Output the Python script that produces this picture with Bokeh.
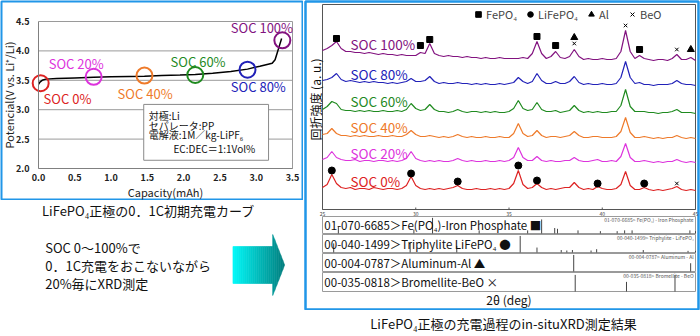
import numpy as np
from bokeh.plotting import figure
from bokeh.models import (Range1d, LinearAxis, FixedTicker, PrintfTickFormatter,
                          Legend, LegendItem)
from bokeh.layouts import row, column
from bokeh.embed import file_html
from bokeh.resources import INLINE
from bokeh.core.properties import value

FONT = "Noto Sans CJK JP"
BLUE = "#2196e8"

# ---------------- charge curve (left) ----------------
capacity = [0.0, 0.02, 0.05, 0.1, 0.25, 0.5, 0.76, 1.0, 1.25, 1.46, 1.7, 1.95,
            2.16, 2.4, 2.65, 2.88, 3.05, 3.15, 3.22, 3.26, 3.29, 3.32, 3.35]
potential = [3.43, 3.47, 3.50, 3.52, 3.53, 3.54, 3.55, 3.56, 3.565, 3.57, 3.58, 3.59,
             3.60, 3.62, 3.65, 3.69, 3.74, 3.77, 3.79, 3.85, 3.97, 4.09, 4.21]
soc_labels = ["SOC 0%", "SOC 20%", "SOC 40%", "SOC 60%", "SOC 80%", "SOC 100%"]
soc_colors = ["#dd2222", "#dd33dd", "#ee7a2a", "#1f8a1f", "#2121b8", "#82127f"]
soc_cap = [0.03, 0.76, 1.46, 2.16, 2.88, 3.36]
soc_v = [3.45, 3.56, 3.58, 3.59, 3.68, 4.18]
soc_label_cap = [0.07, 0.14, 1.09, 1.82, 2.65, 2.65]
soc_label_v = [3.19, 3.79, 3.28, 3.82, 3.40, 4.40]
cap_ticks = [0.0, 0.5, 1.0, 1.5, 2.0, 2.5, 3.0, 3.5]
v_ticks = [2.0, 2.5, 3.0, 3.5, 4.0, 4.5]
cell_notes = ["対極:Li", "セパレータ:PP", "電解液:1M／kg-LiPF₆", "EC:DEC＝1:1Vol%"]
note_cap = [1.52, 1.52, 1.52, 1.86]
note_v = [2.90, 2.73, 2.58, 2.34]
note_box = dict(left=1.45, right=3.17, bottom=2.14, top=3.09)

# ---------------- XRD (right) ----------------
two_theta = np.arange(25.0, 45.001, 0.25)
soc0_r = [3, 6, 16, 7, 3, 2, 3, 1, 2, 2,
          1, 3, 2, 1, 2, 2, 1, 2, 5, 14,
          5, 2, 1, 2, 1, 2, 1, 2, 3, 5,
          2, 1, 1, 2, 1, 1, 2, 1, 2, 1,
          2, 7, 20, 6, 2, 3, 7, 3, 1, 2,
          1, 2, 3, 3, 8, 3, 1, 2, 1, 4,
          2, 1, 1, 2, 6, 19, 5, 1, 1, 3,
          1, 0, 1, 0, 1, 2, 4, 1, 0, 1,
          0]
soc20_r = [3, 5, 11, 5, 3, 2, 2, 3, 1, 2,
           2, 1, 2, 2, 1, 2, 1, 2, 4, 11,
           4, 2, 1, 2, 1, 2, 1, 1, 2, 4,
           2, 1, 2, 1, 1, 2, 1, 1, 2, 1,
           2, 5, 15, 5, 2, 2, 6, 2, 1, 2,
           1, 1, 2, 2, 5, 2, 1, 1, 2, 3,
           1, 1, 2, 1, 6, 19, 5, 1, 1, 2,
           1, 0, 1, 0, 1, 1, 3, 1, 0, 1,
           0]
soc40_r = [4, 5, 10, 5, 3, 3, 2, 3, 2, 3,
           2, 2, 3, 2, 2, 3, 2, 2, 4, 8,
           4, 2, 2, 3, 2, 1, 2, 1, 2, 4,
           2, 1, 2, 1, 1, 2, 1, 1, 2, 1,
           1, 5, 15, 5, 2, 3, 8, 3, 1, 2,
           2, 1, 2, 3, 7, 3, 1, 1, 2, 2,
           1, 1, 1, 2, 7, 21, 6, 1, 1, 2,
           1, 0, 1, 0, 1, 1, 3, 1, 0, 1,
           0]
soc60_r = [4, 7, 12, 10, 4, 3, 3, 2, 3, 2,
           3, 2, 2, 3, 2, 2, 3, 2, 4, 10,
           5, 3, 4, 9, 4, 2, 2, 1, 2, 4,
           2, 1, 2, 2, 1, 2, 1, 2, 1, 1,
           2, 5, 13, 5, 3, 4, 11, 4, 2, 2,
           3, 1, 2, 3, 8, 3, 1, 2, 1, 2,
           1, 1, 2, 2, 8, 24, 7, 2, 2, 2,
           1, 1, 0, 1, 1, 2, 4, 1, 1, 1,
           0]
soc80_r = [5, 6, 8, 12, 6, 4, 5, 4, 3, 4,
           3, 4, 3, 3, 2, 3, 2, 3, 4, 7,
           4, 4, 5, 9, 4, 2, 3, 2, 2, 3,
           2, 2, 1, 2, 1, 2, 1, 1, 2, 1,
           2, 3, 8, 4, 2, 4, 12, 5, 2, 2,
           4, 2, 2, 4, 9, 3, 1, 2, 1, 1,
           2, 1, 1, 2, 8, 24, 8, 2, 3, 1,
           1, 0, 1, 1, 1, 2, 5, 2, 1, 1,
           0]
soc100_r = [10, 12, 15, 19, 12, 9, 9, 8, 8, 7,
            8, 7, 6, 7, 6, 6, 5, 6, 5, 5,
            5, 8, 7, 17, 7, 5, 4, 5, 4, 4,
            3, 4, 3, 3, 2, 3, 2, 2, 3, 2,
            2, 2, 2, 3, 2, 7, 19, 7, 2, 4,
            9, 3, 2, 4, 11, 4, 1, 2, 1, 1,
            2, 1, 1, 2, 9, 30, 9, 2, 5, 2,
            1, 0, 1, 1, 0, 2, 6, 1, 1, 3,
            0]
spectra = [soc0_r, soc20_r, soc40_r, soc60_r, soc80_r, soc100_r]
spectrum_offsets = [19, 47, 71, 96, 124, 149]
xrd_label_x = 26.5
xrd_label_y = [29, 57, 83, 109, 136, 166]

fepo4_mark_x = [25.75, 30.25, 30.75, 36.5, 37.5, 42.0]
fepo4_mark_y = [171, 164, 170, 173, 164, 160]
lfp_mark_x = [25.5, 29.75, 32.25, 35.5, 36.5, 39.75, 42.25]
lfp_mark_y = [39, 36, 28, 44, 29, 26, 26]
al_mark_x = [38.5, 44.75]
al_mark_y = [172, 160]
beo_mark_x = [38.5, 41.25, 44.0, 44.0]
beo_mark_y = [166, 184, 160, 26]

xrd_ticks = [25, 30, 35, 40, 45]
ref_names = ["01-070-6685＞Fe(PO₄)-Iron Phosphate ■",
             "00-040-1499＞Triphylite LiFePO₄ ●",
             "00-004-0787＞Aluminum-Al ▲",
             "00-035-0818＞Bromellite-BeO ×"]
ref_small = ["01-070-6685> Fe(PO₄) - Iron Phosphate",
             "00-040-1499> Triphylite - LiFePO₄",
             "00-004-0787> Aluminum - Al",
             "00-035-0818> Bromellite - BeO"]
fepo4_sticks = [25.85, 29.9, 30.9, 33.4, 36.0, 36.75, 37.45, 37.6, 38.7, 39.9, 40.8, 41.2, 41.6, 44.7, 45.0]
fepo4_rel = [0.45, 0.25, 1.0, 0.2, 0.2, 0.9, 0.35, 0.3, 0.2, 0.15, 0.15, 0.2, 0.2, 0.2, 0.15]
lfp_sticks = [25.6, 29.7, 32.2, 35.6, 36.5, 37.8, 38.1, 38.4, 39.4, 39.7, 42.2, 44.6, 45.0]
lfp_rel = [0.55, 0.6, 0.4, 1.0, 0.3, 0.15, 0.12, 0.15, 0.12, 0.2, 0.15, 0.1, 0.1]
al_sticks = [38.47, 44.74]
al_rel = [1.0, 0.5]
beo_sticks = [38.55, 41.3, 43.9]
beo_rel = [0.95, 0.55, 0.95]
sticks = [(fepo4_sticks, fepo4_rel), (lfp_sticks, lfp_rel), (al_sticks, al_rel), (beo_sticks, beo_rel)]
row_top = [-7, -25, -44, -63]
row_bottom = [-24, -43, -62, -82]

# =============== left chart figure ===============
X0, X1, Y0, Y1 = 0.0, 3.5, 2.0, 4.5
pa_l, pa_r, pa_t, pa_b = 38, 292, 21, 168      # plot area inside panel (px)
fr_l, fr_r, fr_t, fr_b = 1, 302, 1, 199        # blue frame (px)
kx = (pa_r - pa_l) / (X1 - X0)
ky = (pa_b - pa_t) / (Y1 - Y0)
p1 = figure(width=303, height=200, output_backend="svg", toolbar_location=None,
            x_range=Range1d(X0 - (pa_l - fr_l) / kx, X1 + (fr_r - pa_r) / kx),
            y_range=Range1d(Y0 - (fr_b - pa_b) / ky, Y1 + (pa_t - fr_t) / ky),
            x_axis_type=None, y_axis_type=None,
            min_border_left=1, min_border_right=1, min_border_top=1, min_border_bottom=1)
p1.outline_line_color = BLUE
p1.outline_line_width = 2
p1.background_fill_color = "white"
p1.border_fill_color = "white"

p1.segment(x0=X0, x1=X1, y0=v_ticks, y1=v_ticks, line_color="#9a9a9a", line_width=1)
p1.segment(x0=X1, x1=X1, y0=Y0, y1=Y1, line_color="#9a9a9a", line_width=1)

xax = LinearAxis(fixed_location=Y0, bounds=(X0, X1), ticker=FixedTicker(ticks=cap_ticks),
                 formatter=PrintfTickFormatter(format="%.1f"), axis_label="Capacity(mAh)")
yax = LinearAxis(fixed_location=X0, bounds=(Y0, Y1), ticker=FixedTicker(ticks=v_ticks),
                 formatter=PrintfTickFormatter(format="%.1f"), axis_label="Potencial(V vs. Li⁺/Li)")
for ax in (xax, yax):
    ax.axis_line_color = "#808080"
    ax.major_tick_line_color = None
    ax.minor_tick_line_color = None
    ax.major_tick_out = 0
    ax.major_tick_in = 0
    ax.minor_tick_out = 0
    ax.minor_tick_in = 0
    ax.major_label_text_font = FONT
    ax.major_label_text_font_size = "9px"
    ax.major_label_text_font_style = "bold"
    ax.major_label_text_color = "#222222"
    ax.axis_label_text_font = FONT
    ax.axis_label_text_font_size = "11px"
    ax.axis_label_text_font_style = "normal"
    ax.axis_label_text_color = "#222222"
xax.major_label_standoff = 5
xax.axis_label_standoff = 0
yax.major_label_standoff = 9
yax.axis_label_standoff = -4
p1.add_layout(xax, "below")
p1.add_layout(yax, "left")

p1.quad(left=note_box["left"], right=note_box["right"], bottom=note_box["bottom"], top=note_box["top"],
        fill_color="white", line_color="#8a8a8a", line_width=1)
p1.text(x=note_cap, y=note_v, text=cell_notes, text_font=value(FONT), text_font_size="10px",
        text_color="#111111", text_baseline="middle", text_align="left")

p1.line(capacity, potential, line_color="black", line_width=1.5)
p1.scatter(soc_cap, soc_v, marker="circle", size=16, fill_color=None,
           line_color=soc_colors, line_width=2)
p1.text(x=soc_label_cap, y=soc_label_v, text=soc_labels, text_color=soc_colors,
        text_font=value(FONT), text_font_size="13px", text_baseline="middle", text_align="left")

# =============== bottom-left figure (caption, note, arrow) ===============
p3 = figure(width=303, height=136, output_backend="svg", toolbar_location=None,
            x_range=Range1d(0, 303), y_range=Range1d(136, 0),
            x_axis_type=None, y_axis_type=None,
            min_border_left=0, min_border_right=0, min_border_top=0, min_border_bottom=0)
p3.outline_line_color = None
p3.text(x=[148], y=[10], text=["LiFePO₄正極の0．1C初期充電カーブ"], text_font=value(FONT),
        text_font_size="13px", text_align="center", text_baseline="middle", text_color="#111111")
p3.text(x=[44, 44, 44], y=[47, 65, 83],
        text=["SOC 0～100%で", "0．1C充電をおこないながら", "20%毎にXRD測定"],
        text_font=value(FONT), text_font_size="13px", text_align="left",
        text_baseline="middle", text_color="#111111")
# gradient arrow built from thin vertical slices
a_x0, a_xb, a_tip = 233.0, 273.0, 285.0
a_c, a_sh, a_hh = 64.5, 18.5, 30.5
edges = np.linspace(a_x0, a_tip, 27)
xs, ys, cols = [], [], []
def half(x):
    return a_sh if x <= a_xb else a_hh * (a_tip - x) / (a_tip - a_xb)
for i in range(len(edges) - 1):
    xa, xb = edges[i], edges[i + 1]
    if xa < a_xb < xb:
        pts_x = [xa, a_xb, a_xb, xb, xb, a_xb, a_xb, xa]
        pts_y = [a_c - a_sh, a_c - a_sh, a_c - a_hh, a_c - half(xb), a_c + half(xb), a_c + a_hh, a_c + a_sh, a_c + a_sh]
    else:
        ha, hb = half(xa), half(xb)
        if xa >= a_xb:
            ha = a_hh * (a_tip - xa) / (a_tip - a_xb)
        pts_x = [xa, xb, xb, xa]
        pts_y = [a_c - ha, a_c - hb, a_c + hb, a_c + ha]
    t = (0.5 * (xa + xb) - a_x0) / (a_tip - a_x0)
    g = int(round(250 - 125 * t))
    cols.append("#%02x%02x%02x" % (0, g, g))
    xs.append(pts_x)
    ys.append(pts_y)
p3.patches(xs, ys, fill_color=cols, line_color=cols, line_width=0.6)

# =============== right XRD figure ===============
T0, T1 = 25.0, 45.0
px_l, px_r = 322, 695            # 25 deg and 45 deg (page px)
fx_l, fx_r = 305, 698            # blue frame (page px)
k2 = (px_r - px_l) / (T1 - T0)
p2 = figure(width=397, height=310, output_backend="svg", toolbar_location=None,
            x_range=Range1d(T0 - (px_l - fx_l) / k2, T1 + (fx_r - px_r) / k2),
            y_range=Range1d(-100, 208),
            x_axis_type=None, y_axis_type=None,
            min_border_left=2, min_border_right=2, min_border_top=1, min_border_bottom=1)
p2.outline_line_color = BLUE
p2.outline_line_width = 2.5
p2.border_fill_color = "white"

p2.quad(left=T0, right=T1, bottom=0, top=205, fill_color=None, line_color="#555555", line_width=1)
p2.segment(x0=xrd_ticks, x1=xrd_ticks, y0=0, y1=2, line_color="#555555", line_width=1)
p2.text(x=xrd_ticks, y=-4, text=[str(t) for t in xrd_ticks], text_font=value(FONT),
        text_font_size="5px", text_align="center", text_baseline="middle", text_color="#444444")

for r, off, col in zip(spectra, spectrum_offsets, soc_colors):
    p2.line(two_theta, np.array(r) + off, line_color=col, line_width=1.2)
p2.text(x=xrd_label_x, y=xrd_label_y, text=soc_labels, text_color=soc_colors,
        text_font=value(FONT), text_font_size="13.5px", text_align="left", text_baseline="middle")

sq = p2.scatter(fepo4_mark_x, fepo4_mark_y, marker="square", size=6, color="black")
ci = p2.scatter(lfp_mark_x, lfp_mark_y, marker="circle", size=7, color="black")
tr = p2.scatter(al_mark_x, al_mark_y, marker="triangle", size=7, color="black")
xx = p2.scatter(beo_mark_x, beo_mark_y, marker="x", size=5, color="black", line_width=1)

legend = Legend(items=[LegendItem(label="FePO₄", renderers=[sq]),
                       LegendItem(label="LiFePO₄", renderers=[ci]),
                       LegendItem(label="Al", renderers=[tr]),
                       LegendItem(label="BeO", renderers=[xx])],
                orientation="horizontal", location=(166, 287), glyph_width=14, glyph_height=14,
                label_standoff=1, spacing=6, padding=0, margin=0, label_height=14,
                label_text_font=FONT, label_text_font_size="11px", border_line_color=None,
                background_fill_alpha=0)
p2.add_layout(legend)

p2.text(x=[T0 - 7 / k2], y=[110], text=["回折強度 (a. u.)"], angle=np.pi / 2,
        text_font=value(FONT), text_font_size="12px", text_align="center",
        text_baseline="middle", text_color="#111111")

for (pos, rel), top, bot, nm, small in zip(sticks, row_top, row_bottom, ref_names, ref_small):
    p2.quad(left=T0, right=T1, top=top, bottom=bot, fill_color="white", line_color="#9a9a9a", line_width=1)
    h = top - bot
    p2.segment(x0=pos, x1=pos, y0=bot, y1=[bot + 0.92 * h * v for v in rel],
               line_color="#444444", line_width=1)
    p2.text(x=[T0 + 0.1], y=[(top + bot) / 2], text=[nm], text_font=value(FONT),
            text_font_size="11.5px", text_align="left", text_baseline="middle", text_color="#111111")
    p2.text(x=[T1 - 0.1], y=[top - 3], text=[small], text_font=value(FONT),
            text_font_size="5px", text_align="right", text_baseline="middle", text_color="#555555")

p2.text(x=[35.0], y=[-90], text=["2θ (deg)"], text_font=value(FONT), text_font_size="12px",
        text_align="center", text_baseline="middle", text_color="#111111")

# =============== right caption ===============
p4 = figure(width=397, height=26, output_backend="svg", toolbar_location=None,
            x_range=Range1d(0, 397), y_range=Range1d(26, 0),
            x_axis_type=None, y_axis_type=None,
            min_border_left=0, min_border_right=0, min_border_top=0, min_border_bottom=0)
p4.outline_line_color = None
p4.text(x=[200], y=[13], text=["LiFePO₄正極の充電過程のin-situXRD測定結果"], text_font=value(FONT),
        text_font_size="13px", text_align="center", text_baseline="middle", text_color="#111111")

layout = row(column(p1, p3), column(p2, p4))
open("out.html", "w").write(file_html(layout, INLINE))
